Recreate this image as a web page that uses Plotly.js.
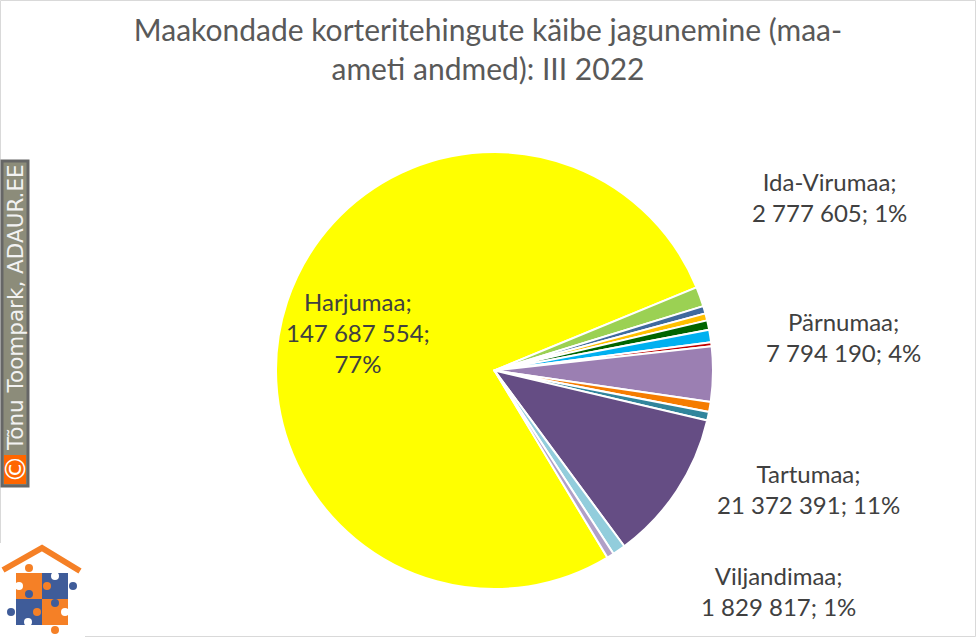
<!DOCTYPE html>
<html><head><meta charset="utf-8">
<script src="https://cdn.plot.ly/plotly-3.0.1.min.js"></script>
<style>html,body{margin:0;padding:0;background:#fff}#c{width:976px;height:637px}</style>
</head><body><div id="c"></div>
<script>
const counties = ["Harjumaa","Ida-Virumaa","Jõgevamaa","Järvamaa","Läänemaa","Lääne-Virumaa","Põlvamaa","Pärnumaa","Raplamaa","Saaremaa","Tartumaa","Viljandimaa","Võrumaa"];
const turnover = [147687554,2777605,1050000,1000000,1330000,1760000,550000,7794190,1400000,1200000,21372391,1829817,1000000];
const sliceColors = ["#FFFF00","#9BD153","#3F6A9E","#FFC000","#006400","#00B0F0","#C00000","#9B7FB2","#F57C00","#31859C","#654D84","#92CDDC","#B1A0C7"];
const labelTexts = ["Harjumaa;<br>147 687 554;<br>77%","Ida-Virumaa;<br>2 777 605; 1%","Pärnumaa;<br>7 794 190; 4%","Tartumaa;<br>21 372 391; 11%","Viljandimaa;<br>1 829 817; 1%"];
const labelPos = [[358,332],[829,197],[843,337],[808,489],[778,591]];
const titleText = "Maakondade korteritehingute käibe jagunemine (maa-<br>ameti andmed): III 2022";

const W=976,H=637;
const px=x=>x/W, py=y=>1-y/H;
const cx=494.5,cy=370.5,R=218.5;
const rect=(x0,y0,x1,y1,fill,line,lw)=>({type:'rect',xref:'paper',yref:'paper',x0:px(x0),x1:px(x1),y0:py(y1),y1:py(y0),fillcolor:fill,line:{color:line||fill,width:lw||0},layer:'above'});
const circ=(x,y,r,fill)=>({type:'circle',xref:'paper',yref:'paper',x0:px(x-r),x1:px(x+r),y0:py(y+r),y1:py(y-r),fillcolor:fill,line:{width:0},layer:'above'});
const O="#F58026",B="#3F5C99",Wh="#FFFFFF";
const shapes=[
 rect(0.5,0.5,975.5,636.5,'rgba(0,0,0,0)','#D9D9D9',1),
 rect(2,161,28,486,'#8C8C7A','#666666',3),
 rect(4,455,26,484,'#FF6600'),
 rect(0,543,85,637,'#FFFFFF'),
 {type:'path',xref:'paper',yref:'paper',path:`M ${px(3)} ${py(570)} L ${px(42)} ${py(548)} L ${px(80)} ${py(571)}`,line:{color:O,width:6},layer:'above'},
 rect(16,573,42,599,O),rect(42,573,68,599,B),rect(16,599,42,625,B),rect(42,599,68,625,O),
 circ(29,568,4,O),circ(73,586,4,B),circ(11,612,4,B),circ(55,630,4,O),
 circ(47,586,4,O),circ(29,594,4,B),circ(55,603,4,B),circ(37,612,4,O),
 circ(19,586,4,Wh),circ(55,576,4,Wh),circ(65,612,4,Wh),circ(28,622,4,Wh)
];
const anns=labelTexts.map((t,i)=>({text:t,xref:'paper',yref:'paper',x:px(labelPos[i][0]),y:py(labelPos[i][1]),xanchor:'center',yanchor:'middle',align:'center',showarrow:false,font:{family:'Lato',size:24,color:'#404040'}}));
anns.push({text:'Tõnu Toompark, ADAUR.EE',xref:'paper',yref:'paper',x:px(15),y:py(308),xanchor:'center',yanchor:'middle',textangle:-90,showarrow:false,font:{family:'DejaVu Sans',size:21.5,color:'#F2F2F2'}});
anns.push({text:'©',xref:'paper',yref:'paper',x:px(15),y:py(469),xanchor:'center',yanchor:'middle',textangle:-90,showarrow:false,font:{family:'DejaVu Sans',size:28,color:'#FFFFFF'}});

Plotly.newPlot('c',[{
 type:'pie',labels:counties,values:turnover,sort:false,direction:'clockwise',rotation:148.9,
 marker:{colors:sliceColors,line:{color:'#FFFFFF',width:2}},textinfo:'none',hoverinfo:'label+value+percent',showlegend:false,
 domain:{x:[(cx-R)/W,(cx+R)/W],y:[1-(cy+R)/H,1-(cy-R)/H]}
}],{
 width:W,height:H,margin:{l:0,r:0,t:0,b:0},paper_bgcolor:'#FFFFFF',showlegend:false,
 title:{text:titleText,x:488/W,xanchor:'center',xref:'paper',y:1-41/H,yanchor:'top',font:{family:'Lato',size:30,color:'#595959'}},
 shapes:shapes,annotations:anns
},{displayModeBar:false,responsive:false});
</script></body></html>
